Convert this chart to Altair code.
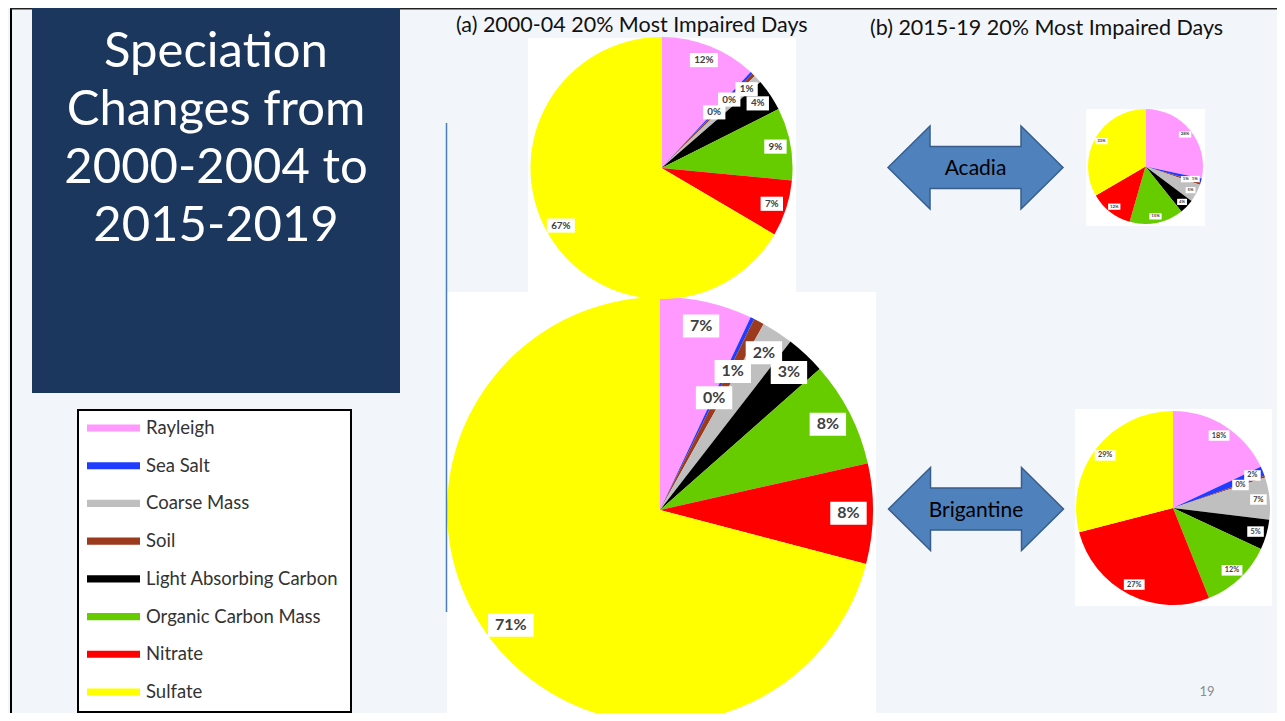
import altair as alt
import pandas as pd

# ---------------- data ----------------
SPECIES_LEGEND = ["Rayleigh", "Sea Salt", "Coarse Mass", "Soil",
                  "Light Absorbing Carbon", "Organic Carbon Mass", "Nitrate", "Sulfate"]
SPECIES_COLORS = ["#ff99ff", "#1f3cff", "#bfbfbf", "#9c3a1e",
                  "#000000", "#66cc00", "#ff0000", "#ffff00"]
# order of the wedges, clockwise from 12 o'clock
SPECIES_PIE_ORDER = ["Rayleigh", "Sea Salt", "Soil", "Coarse Mass",
                     "Light Absorbing Carbon", "Organic Carbon Mass", "Nitrate", "Sulfate"]

acadia_2000_04 = [12, 0.3, 0.4, 1.0, 4, 9, 7, 67]
brigantine_2000_04 = [7, 0.3, 0.8, 2.4, 3, 8, 7.6, 71]
acadia_2015_19 = [28, 1.2, 0.6, 5, 4, 15, 12, 33]
brigantine_2015_19 = [18, 1.6, 0.3, 7, 5, 12, 27, 29]

TITLE_LINES = ["Speciation", "Changes from", "2000-2004 to", "2015-2019"]
PANEL_TITLES = ["(a) 2000-04 20% Most Impaired Days", "(b) 2015-19 20% Most Impaired Days"]
SITES = ["Acadia", "Brigantine"]
PAGE_NUMBER = ["19"]

series = {
    "acadia_2000_04": acadia_2000_04,
    "brigantine_2000_04": brigantine_2000_04,
    "acadia_2015_19": acadia_2015_19,
    "brigantine_2015_19": brigantine_2015_19,
}
rows = []
for key, vals in series.items():
    for i, (sp, v) in enumerate(zip(SPECIES_PIE_ORDER, vals)):
        rows.append({"pie": key, "species": sp, "value": v, "ord": i})
df = pd.DataFrame(rows)

# ---------------- layout ----------------
W, H = 1269, 705
OX, OY = 8, 8
FONT = "Lato"
one = pd.DataFrame({"k": [0]})

PIES = {
    "brigantine_2000_04": dict(cx=660, cy=510, r=213, img=(447, 292, 876, 730)),
    "acadia_2000_04": dict(cx=661.5, cy=168, r=131, img=(528, 38, 796, 298)),
    "acadia_2015_19": dict(cx=1145.5, cy=166.5, r=57.5, img=(1086, 109, 1205, 226)),
    "brigantine_2015_19": dict(cx=1173, cy=508, r=97, img=(1075, 409, 1272, 606)),
}


def vx(v):
    return alt.value(v - OX)


def vy(v):
    return alt.value(v - OY)


def box(x1, y1, x2, y2, **kw):
    return alt.Chart(one).mark_rect(**kw).encode(x=vx(x1), x2=vx(x2), y=vy(y1), y2=vy(y2))


color_scale = alt.Scale(domain=SPECIES_LEGEND, range=SPECIES_COLORS)

layers = []

# slide borders
layers.append(box(10, 8, 12, 730, fill="#000000"))
layers.append(box(10, 8, 1290, 9.5, fill="#222222"))

# title block
layers.append(box(32, 8, 400, 393, fill="#1c375e"))
title_df = pd.DataFrame({"line": TITLE_LINES, "i": list(range(len(TITLE_LINES)))})
layers.append(
    alt.Chart(title_df)
    .transform_calculate(ty=f"{67 - OY} + datum.i * 58")
    .mark_text(font=FONT, fontSize=49, color="white", align="center", baseline="alphabetic")
    .encode(x=vx(216), y=alt.Y("ty:Q", scale=None, axis=None), text="line:N")
)

# legend box
layers.append(box(78, 410, 351, 712, fill="white", stroke="black", strokeWidth=2))
leg_df = pd.DataFrame({"species": SPECIES_LEGEND})
leg_y = alt.Y("species:N", scale=alt.Scale(type="point", domain=SPECIES_LEGEND,
                                             range=[428 - OY, 692 - OY], padding=0), axis=None)
SWATCH = "M-1,-0.135H1V0.135H-1Z"
layers.append(
    alt.Chart(leg_df)
    .mark_point(shape=SWATCH, size=53 * 53, filled=True, opacity=1)
    .encode(x=vx(113.5), y=leg_y, color=alt.Color("species:N", scale=color_scale, legend=None))
)
layers.append(
    alt.Chart(leg_df)
    .mark_text(font=FONT, fontSize=18.5, color="#333333", align="left", baseline="middle")
    .encode(x=vx(146), y=leg_y, text="species:N")
)

# pie image backgrounds and pies
for key, p in PIES.items():
    x1, y1, x2, y2 = p["img"]
    layers.append(box(x1, y1, x2, y2, fill="white"))
    cx, cy, r = p["cx"], p["cy"], p["r"]
    base = alt.Chart(df).transform_filter(alt.datum.pie == key)
    layers.append(
        base.mark_arc(outerRadius=r)
        .encode(
            theta=alt.Theta("value:Q", stack="normalize"),
            color=alt.Color("species:N", scale=color_scale, legend=None),
            order=alt.Order("ord:Q"),
            x=vx(cx), y=vy(cy),
        )
    )
    fs = round(r * 0.075, 2)
    lab = (
        base.transform_joinaggregate(total="sum(value)")
        .transform_calculate(
            pct="100 * datum.value / datum.total",
            small="100 * datum.value / datum.total < 0.95 ? 1 : 0",
        )
        .transform_window(cum="sum(value)", sidx="sum(small)",
                          sort=[alt.SortField("ord", order="ascending")], frame=[None, 0])
        .transform_joinaggregate(nsmall="sum(small)")
        .transform_calculate(
            mid="2 * PI * (datum.cum - datum.value / 2) / datum.total",
            rf="datum.small ? 0.885 - 0.15 * (datum.nsmall - datum.sidx + 1) : 0.885",
            label="format(datum.pct, '.0f') + '%'",
        )
        .transform_calculate(
            lx=f"{cx - OX} + {r} * datum.rf * sin(datum.mid)",
            ly=f"{cy - OY} - {r} * datum.rf * cos(datum.mid)",
            bw=f"((length(datum.label) - 1) * 0.58 + 1.7) * {fs}",
        )
        .transform_calculate(
            bx1="datum.lx - datum.bw / 2", bx2="datum.lx + datum.bw / 2",
            by1=f"datum.ly - {0.72 * fs}", by2=f"datum.ly + {0.72 * fs}",
        )
    )
    layers.append(
        lab.mark_rect(fill="white").encode(
            x=alt.X("bx1:Q", scale=None, axis=None), x2="bx2:Q",
            y=alt.Y("by1:Q", scale=None, axis=None), y2="by2:Q",
        )
    )
    layers.append(
        lab.mark_text(font=FONT, fontSize=fs, fontWeight="bold", color="#404040",
                      align="center", baseline="middle")
        .encode(x=alt.X("lx:Q", scale=None, axis=None), y=alt.Y("ly:Q", scale=None, axis=None),
                text="label:N")
    )

# divider line
layers.append(
    alt.Chart(one).mark_rule(color="#4a7ebb", strokeWidth=1.5)
    .encode(x=vx(446.5), y=vy(123), y2=vy(612))
)

# panel titles
pt_df = pd.DataFrame({"t": PANEL_TITLES, "i": [0, 1]})
layers.append(
    alt.Chart(pt_df)
    .transform_calculate(tx=f"datum.i == 0 ? {456 - OX} : {870 - OX}",
                         ty=f"datum.i == 0 ? {32 - OY} : {35 - OY}")
    .mark_text(font=FONT, fontSize=21.5, color="#111111", align="left", baseline="alphabetic")
    .encode(x=alt.X("tx:Q", scale=None, axis=None), y=alt.Y("ty:Q", scale=None, axis=None), text="t:N")
)

# double arrows with site names
ARROW = ("M-1,0L-0.52,-0.474L-0.52,-0.24L0.52,-0.24L0.52,-0.474L1,0"
         "L0.52,0.474L0.52,0.24L-0.52,0.24L-0.52,0.474Z")
site_df = pd.DataFrame({"site": SITES, "i": [0, 1]})
site_base = alt.Chart(site_df).transform_calculate(
    ax=f"datum.i == 0 ? {975.5 - OX} : {976 - OX}",
    ay=f"datum.i == 0 ? {167.5 - OY} : {509 - OY}",
    ty=f"datum.i == 0 ? {175 - OY} : {516.5 - OY}",
)
layers.append(
    site_base.mark_point(shape=ARROW, size=175 * 175, filled=True, fill="#4f81bd",
                         stroke="#385d8a", strokeWidth=1.5, opacity=1)
    .encode(x=alt.X("ax:Q", scale=None, axis=None), y=alt.Y("ay:Q", scale=None, axis=None))
)
layers.append(
    site_base.mark_text(font=FONT, fontSize=21, color="#000000", align="center", baseline="alphabetic")
    .encode(x=alt.X("ax:Q", scale=None, axis=None), y=alt.Y("ty:Q", scale=None, axis=None), text="site:N")
)

# page number
layers.append(
    alt.Chart(pd.DataFrame({"n": PAGE_NUMBER}))
    .mark_text(font=FONT, fontSize=13, color="#8c8c8c", align="center", baseline="alphabetic")
    .encode(x=vx(1207), y=vy(696), text="n:N")
)

chart = (
    alt.layer(*layers)
    .properties(width=W, height=H, padding=0, background="#f2f6fb",
                autosize=alt.AutoSizeParams(type="none"))
    .configure_view(stroke=None)
)

chart.save("out.html", embed_options={"renderer": "svg", "actions": False})
